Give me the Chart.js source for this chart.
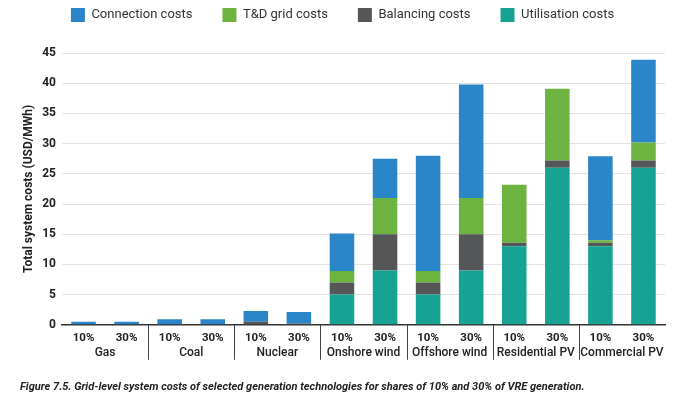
<!DOCTYPE html>
<html>
<head>
<meta charset="utf-8">
<title>Grid-level system costs</title>
<script src="https://cdn.jsdelivr.net/npm/chart.js@4.4.1/dist/chart.umd.min.js"></script>
<style>
    html, body { margin: 0; padding: 0; background: #fff; }
    #wrap { width: 680px; height: 401px; position: relative; }
</style>
</head>
<body>
<div id="wrap"><canvas id="chart"></canvas></div>
<script>
// 技术分组与份额
const groups = ['Gas', 'Coal', 'Nuclear', 'Onshore wind', 'Offshore wind', 'Residential PV', 'Commercial PV'];
const shares = ['10%', '30%'];

// 各成本分量 (USD/MWh)，顺序与 labels 一致
const utilisation = [0, 0, 0, 0, 0, 0, 5, 9, 5, 9, 13, 26, 13, 26];
const balancing   = [0, 0, 0, 0, 0.5, 0.2, 2, 6, 2, 6, 0.6, 1.2, 0.6, 1.2];
const tdGrid      = [0, 0, 0, 0, 0, 0, 1.9, 6, 1.9, 6, 9.6, 11.9, 0.4, 3];
const connection  = [0.5, 0.5, 0.9, 0.9, 1.8, 1.9, 6.2, 6.5, 19.1, 18.8, 0, 0, 13.9, 13.7];

const yTicks = [0, 5, 10, 15, 20, 25, 30, 35, 40, 45];

const labels = groups.flatMap(() => shares);
const FONT = 'Roboto, "Liberation Sans", sans-serif';

Chart.defaults.font.family = FONT;
Chart.defaults.color = '#222';

// 图例下方留白
const legendSpace = {
    id: 'legendSpace',
    beforeInit(chart) {
        const fit = chart.legend.fit;
        chart.legend.fit = function () {
            fit.bind(chart.legend)();
            this.height += 21;
        };
    }
};

// 分组名称和分隔线
const groupLabels = {
    id: 'groupLabels',
    afterDraw(chart) {
        const x = chart.scales.x;
        const ctx = chart.ctx;
        const base = chart.chartArea.bottom;
        ctx.save();
        ctx.font = '500 12px ' + FONT;
        ctx.fillStyle = '#222';
        ctx.textAlign = 'center';
        ctx.textBaseline = 'middle';
        ctx.strokeStyle = '#444';
        ctx.lineWidth = 1;
        groups.forEach((g, i) => {
            const a = x.getPixelForValue(2 * i);
            const b = x.getPixelForValue(2 * i + 1);
            ctx.fillText(g, (a + b) / 2, base + 28);
            if (i > 0) {
                const sep = Math.round((x.getPixelForValue(2 * i - 1) + a) / 2) + 0.5;
                ctx.beginPath();
                ctx.moveTo(sep, base);
                ctx.lineTo(sep, base + 35);
                ctx.stroke();
            }
        });
        ctx.restore();
    }
};

new Chart(document.getElementById('chart'), {
    type: 'bar',
    data: {
        labels: labels,
        datasets: [
            { label: 'Utilisation costs', data: utilisation, backgroundColor: '#16a394' },
            { label: 'Balancing costs', data: balancing, backgroundColor: '#555657' },
            { label: 'T&D grid costs', data: tdGrid, backgroundColor: '#6cb33f' },
            { label: 'Connection costs', data: connection, backgroundColor: '#2a86c8' }
        ]
    },
    options: {
        responsive: true,
        maintainAspectRatio: false,
        animation: false,
        datasets: {
            bar: { categoryPercentage: 1, barPercentage: 0.57, borderWidth: 0 }
        },
        layout: { padding: { top: -22, left: 20, right: 15, bottom: 0 } },
        plugins: {
            legend: {
                position: 'top',
                reverse: true,
                labels: {
                    boxWidth: 14,
                    boxHeight: 14,
                    padding: 30,
                    color: '#333',
                    font: { size: 13 }
                }
            },
            title: {
                display: true,
                position: 'bottom',
                align: 'start',
                text: 'Figure 7.5. Grid-level system costs of selected generation technologies for shares of 10% and 30% of VRE generation.',
                font: { size: 11, weight: 'bold', style: 'italic' },
                color: '#222',
                padding: { top: 22, bottom: 7 }
            },
            tooltip: { enabled: false }
        },
        scales: {
            x: {
                stacked: true,
                grid: { display: false, drawTicks: false },
                border: { color: '#333', width: 1.5 },
                ticks: { padding: 6, font: { size: 11.5, weight: 'bold' }, color: '#222' },
                afterFit(scale) { scale.height = 34; }
            },
            y: {
                stacked: true,
                min: 0,
                max: 45,
                afterBuildTicks(scale) { scale.ticks = yTicks.map(v => ({ value: v })); },
                grid: { color: '#e2e2e2', drawTicks: false },
                border: { display: false },
                ticks: { padding: 6, font: { size: 12, weight: 'bold' }, color: '#222' },
                title: {
                    display: true,
                    text: 'Total system costs (USD/MWh)',
                    font: { size: 12, weight: 'bold' },
                    color: '#222',
                    padding: { top: 2, bottom: 0 }
                },
                afterFit(scale) { scale.width = 42; }
            }
        }
    },
    plugins: [legendSpace, groupLabels]
});
</script>
</body>
</html>
